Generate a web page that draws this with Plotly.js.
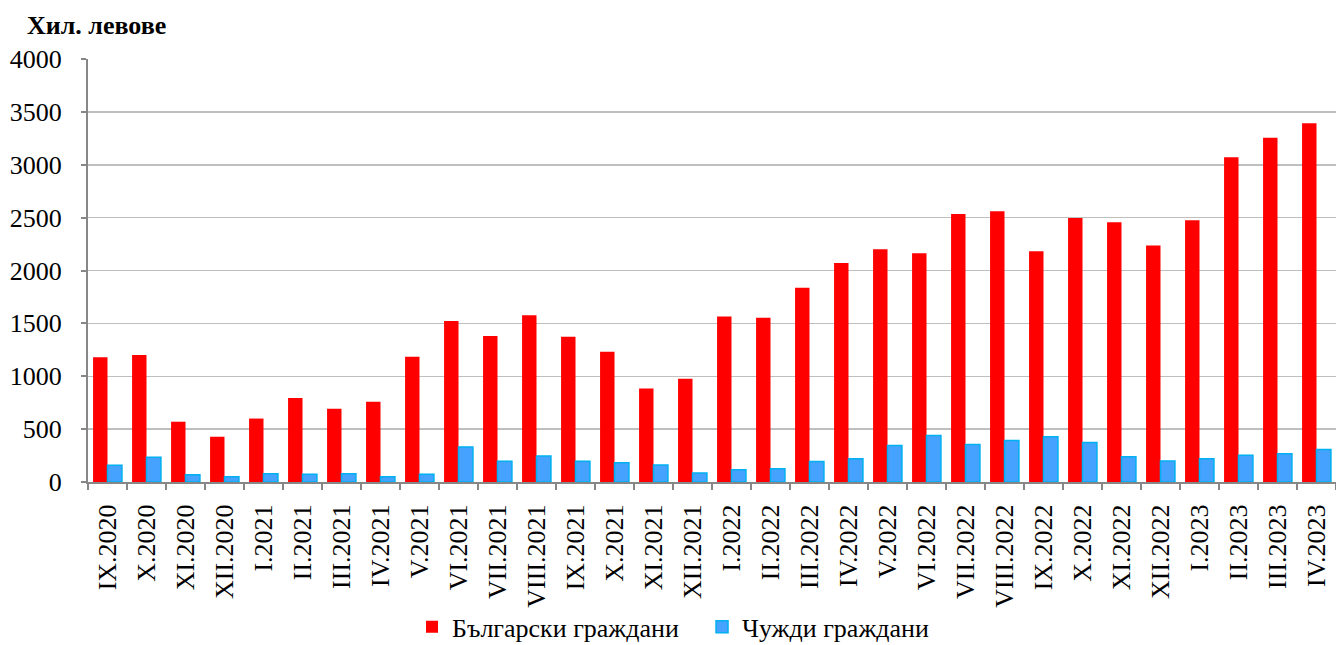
<!DOCTYPE html>
<html>
<head>
<meta charset="utf-8">
<script src="https://cdn.plot.ly/plotly-3.0.1.min.js"></script>
<style>
  html, body { margin: 0; padding: 0; background: #ffffff; }
  #chart { width: 1336px; height: 645px; }
</style>
</head>
<body>
<div id="chart"></div>
<script>
const months = [
  "IX.2020", "X.2020", "XI.2020", "XII.2020",
  "I.2021", "II.2021", "III.2021", "IV.2021", "V.2021", "VI.2021",
  "VII.2021", "VIII.2021", "IX.2021", "X.2021", "XI.2021", "XII.2021",
  "I.2022", "II.2022", "III.2022", "IV.2022", "V.2022", "VI.2022",
  "VII.2022", "VIII.2022", "IX.2022", "X.2022", "XI.2022", "XII.2022",
  "I.2023", "II.2023", "III.2023", "IV.2023"
];

const bulgarianCitizens = [
  1180, 1200, 570, 428,
  600, 795, 692, 760, 1185, 1522,
  1380, 1576, 1374, 1232, 884, 976,
  1566, 1554, 1838, 2072, 2201, 2164,
  2535, 2560, 2183, 2497, 2456, 2236,
  2475, 3070, 3255, 3393
];

const foreignCitizens = [
  158, 233, 69, 50,
  79, 73, 79, 50, 73, 332,
  196, 246, 196, 183, 161, 85,
  117, 126, 193, 221, 346, 440,
  355, 393, 428, 374, 239, 198,
  220, 252, 267, 308
];

const seriesNames = ["Български граждани", "Чужди граждани"];
const yTickValues = [0, 500, 1000, 1500, 2000, 2500, 3000, 3500, 4000];
const yAxisUnit = "Хил. левове";

const serif = "Liberation Serif, Times New Roman, serif";

const traces = [
  {
    type: "bar",
    name: seriesNames[0],
    x: months,
    y: bulgarianCitizens,
    marker: { color: "#FF0000", line: { color: "#FF0000", width: 0 } },
    hoverinfo: "x+y+name"
  },
  {
    type: "bar",
    name: seriesNames[1],
    x: months,
    y: foreignCitizens,
    marker: { color: "#45A2FF", line: { color: "#00B0F0", width: 1.5 } },
    hoverinfo: "x+y+name"
  }
];

const layout = {
  width: 1336,
  height: 645,
  margin: { l: 88, r: 0, t: 59, b: 163, autoexpand: false },
  paper_bgcolor: "#ffffff",
  plot_bgcolor: "#ffffff",
  barmode: "group",
  bargap: 0.26,
  bargroupgap: 0,
  font: { family: serif, color: "#000000", size: 24 },
  showlegend: true,
  legend: {
    orientation: "h",
    xref: "container",
    yref: "container",
    x: 0.3084,
    xanchor: "left",
    y: 0.028,
    yanchor: "middle",
    font: { family: serif, size: 26, color: "#000000" },
    itemwidth: 30,
    entrywidth: 245,
    entrywidthmode: "pixels",
    traceorder: "normal",
    bgcolor: "rgba(0,0,0,0)"
  },
  xaxis: {
    type: "category",
    tickson: "boundaries",
    ticks: "outside",
    ticklen: 6,
    tickwidth: 2,
    tickcolor: "#878787",
    showline: true,
    linecolor: "#878787",
    linewidth: 2,
    showgrid: false,
    zeroline: false,
    tickangle: -90,
    ticklabelstandoff: 10,
    tickfont: { family: serif, size: 26, color: "#000000" },
    fixedrange: true
  },
  yaxis: {
    range: [0, 4000],
    tickvals: yTickValues,
    ticktext: yTickValues.map(String),
    ticks: "outside",
    ticklen: 5,
    tickwidth: 2,
    tickcolor: "#878787",
    showline: true,
    linecolor: "#878787",
    linewidth: 2,
    showgrid: true,
    gridcolor: "#BFBFBF",
    gridwidth: 1.5,
    zeroline: false,
    ticklabelstandoff: 14,
    tickfont: { family: serif, size: 26, color: "#000000" },
    fixedrange: true
  },
  annotations: [
    {
      text: "<b>" + yAxisUnit + "</b>",
      xref: "paper",
      yref: "paper",
      x: -0.0505,
      xanchor: "left",
      y: 1.0,
      yshift: 34,
      yanchor: "middle",
      showarrow: false,
      font: { family: serif, size: 26, color: "#000000" }
    }
  ]
};

Plotly.newPlot("chart", traces, layout, { displayModeBar: false, staticPlot: true });
</script>
</body>
</html>
